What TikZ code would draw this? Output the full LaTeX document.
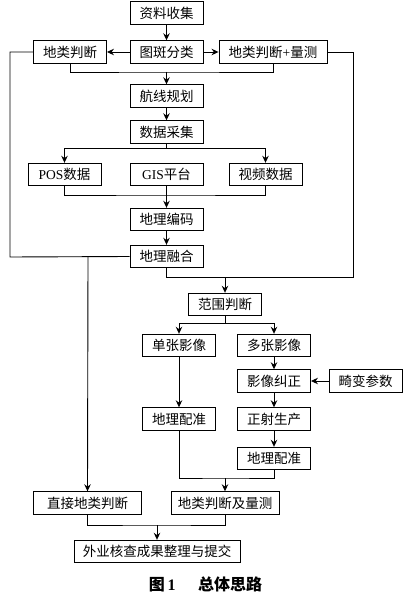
\documentclass[tikz,border=0pt]{standalone}
\usepackage{fontspec}
\setmainfont{Liberation Serif}
\newfontfamily\cjk{Noto Sans CJK SC}
\newcommand{\lat}[1]{{\rmfamily #1}}
\usetikzlibrary{arrows.meta}
\begin{document}
\begin{tikzpicture}[x=1pt,y=-1pt,
  line width=0.9pt,
  box/.style={draw, line width=0.9pt, minimum height=22.5pt, inner sep=0pt, font=\fontsize{13.5}{13.5}\cjk},
  w4/.style={minimum width=73pt},
  w6/.style={minimum width=108pt},
  arr/.style={-{Stealth[length=7pt,width=6.5pt]}}]
\useasboundingbox (0,0) rectangle (407,593);
% nodes
\node[box,w4] (zl) at (166.5,13) {资料收集};
\node[box,w4] (tb) at (166.5,52) {图斑分类};
\node[box,w4] (dl1) at (70,52) {地类判断};
\node[box,w6] (dlm) at (273,52) {地类判断\lat{+}量测};
\node[box,w4] (hx) at (166.5,96) {航线规划};
\node[box,w4] (sj) at (166.5,132) {数据采集};
\node[box,w4] (pos) at (64.5,174.5) {\lat{POS}数据};
\node[box,w4] (gis) at (166.5,174.5) {\lat{GIS}平台};
\node[box,w4] (sp) at (265.5,174.5) {视频数据};
\node[box,w4] (bm) at (166.5,219.5) {地理编码};
\node[box,w4] (rh) at (166.5,256.5) {地理融合};
\node[box,w4] (fw) at (225,304.5) {范围判断};
\node[box,w4] (dz) at (179,345.5) {单张影像};
\node[box,w4] (dd) at (274,345.5) {多张影像};
\node[box,w4] (jz) at (274,381) {影像纠正};
\node[box,w4] (jb) at (365.5,381) {畸变参数};
\node[box,w4] (pz1) at (179,419) {地理配准};
\node[box,w4] (zs) at (274,419) {正射生产};
\node[box,w4] (pz2) at (274,458.5) {地理配准};
\node[box,w6] (dlj) at (225,503) {地类判断及量测};
\node[box,w6] (zj) at (87.5,503) {直接地类判断};
\node[box,minimum width=166pt] (wy) at (157,551.5) {外业核查成果整理与提交};
\node[inner sep=0pt,font=\fontsize{16}{16}\cjk\bfseries] (cap) at (205.5,584) {图\,\lat{\textbf{1}}\hspace{1.4em}总体思路};
% coordinates
\coordinate (l1) at (10,52);
\coordinate (l2) at (10,257);
\coordinate (l3) at (88,257);
\coordinate (r1) at (353,52);
\coordinate (r2) at (353,277);
\coordinate (y72) at (166.5,72);
\coordinate (y148) at (166.5,148.5);
\coordinate (y195) at (166.5,195);
\coordinate (y277) at (225,277);
\coordinate (y323) at (225,323);
\coordinate (y478) at (225,478);
\coordinate (y525) at (157,525);
% connectors
\draw[arr] (zl) -- (tb);
\draw[arr] (tb) -- (dl1);
\draw[arr] (tb) -- (dlm);
\draw (dl1.south) |- (y72) -| (dlm.south);
\draw[arr] (y72) -- (hx);
\draw[arr] (hx) -- (sj);
\draw (sj.south) -- (y148);
\draw[arr] (y148) -| (pos.north);
\draw[arr] (y148) -| (sp.north);
\draw (pos.south) |- (y195) -| (sp.south);
\draw[arr] (gis.south) -- (bm.north);
\draw[arr] (bm) -- (rh);
\draw (dl1.west) -- (l1) -- (l2) -- (rh.west);
\draw[arr] (l3) -- (zj.north);
\draw (dlm.east) -- (r1) -- (r2) -- (rh.south |- r2) -- (rh.south);
\draw[arr] (y277) -- (fw.north);
\draw (fw.south) -- (y323);
\draw[arr] (y323) -| (dz.north);
\draw[arr] (y323) -| (dd.north);
\draw[arr] (dd) -- (jz);
\draw[arr] (jb) -- (jz);
\draw[arr] (jz) -- (zs);
\draw[arr] (zs) -- (pz2);
\draw[arr] (dz) -- (pz1);
\draw (pz1.south) |- (y478) -| (pz2.south);
\draw[arr] (y478) -- (dlj.north);
\draw (zj.south) |- (y525) -| (dlj.south);
\draw[arr] (y525) -- (wy.north);
\end{tikzpicture}
\end{document}
